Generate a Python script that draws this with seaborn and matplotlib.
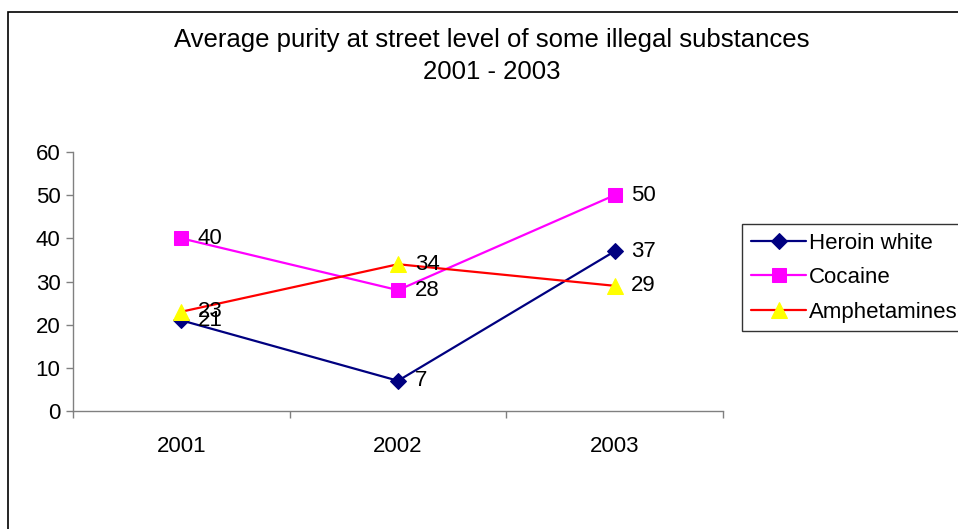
import pandas as pd
import numpy as np
import matplotlib.pyplot as plt
import seaborn as sns
from matplotlib.patches import Rectangle

sns.set_theme(style="white")
plt.rcParams['font.family'] = ['Liberation Sans', 'DejaVu Sans']
plt.rcParams['text.color'] = 'black'
plt.rcParams['xtick.color'] = 'black'
plt.rcParams['ytick.color'] = 'black'

# Dados do gráfico.

anos = ["2001", "2002", "2003"]
heroina = [21, 7, 37]
cocaina = [40, 28, 50]
anfetaminas = [23, 34, 29]

series = ["Heroin white", "Cocaine", "Amphetamines"]
valores = [heroina, cocaina, anfetaminas]
cores = ["#000080", "#FF00FF", "#FF0000"]
cores_marcador = ["#000080", "#FF00FF", "#FFFF00"]
marcadores = ["D", "s", "^"]
tamanhos = [8, 10, 11]

fig = plt.figure(figsize=(9.58, 5.29), dpi=100)
ax = fig.add_axes([73/958, 1 - 411/529, 650/958, 259/529])

x = np.arange(len(anos))
for nome, vals, cor, cor_m, mk, ms in zip(series, valores, cores, cores_marcador, marcadores, tamanhos):
    sns.lineplot(x=x, y=vals, ax=ax, color=cor, marker=mk, markersize=ms,
                 markerfacecolor=cor_m, markeredgecolor=cor_m, linewidth=1.6,
                 label=nome)
    for xi, v in zip(x, vals):
        ax.annotate(str(v), (xi, v), xytext=(12, 0), textcoords="offset points",
                    ha="left", va="center", fontsize=16, color="black")

ax.set_xlim(-0.5, 2.5)
ax.set_ylim(0, 60)
ax.set_yticks(range(0, 61, 10))
ax.set_xticks(x)
ax.set_xticklabels(anos)
ax.set_xticks([-0.5, 0.5, 1.5, 2.5], minor=True)
ax.tick_params(axis="x", which="major", length=0, labelsize=16, pad=18)
ax.tick_params(axis="x", which="minor", length=5, width=1, color="#808080", direction="out", bottom=True)
ax.tick_params(axis="y", length=5, width=1, color="#808080", direction="out", left=True, labelsize=16, pad=4)
for lado in ["top", "right"]:
    ax.spines[lado].set_visible(False)
for lado in ["left", "bottom"]:
    ax.spines[lado].set_color("#808080")
    ax.spines[lado].set_linewidth(1)
ax.set_xlabel("")
ax.set_ylabel("")

leg = ax.legend(loc="upper left", bbox_to_anchor=(742/958, 1 - 224/529),
                bbox_transform=fig.transFigure, borderaxespad=0, fontsize=16,
                frameon=True, fancybox=False, edgecolor="black", handlelength=2.5,
                labelspacing=0.6, handletextpad=0.1, borderpad=0.4)
leg.get_frame().set_linewidth(1)

fig.text(492/958, 1 - 56/529, "Average purity at street level of some illegal substances\n2001 - 2003",
         ha="center", va="center", fontsize=18.5, linespacing=1.45)

fig.patches.append(Rectangle((8/958, -0.1), 1.2, 1.1 - 12/529, transform=fig.transFigure,
                             fill=False, edgecolor="black", linewidth=1.2))

plt.savefig("out.png", dpi=100)
